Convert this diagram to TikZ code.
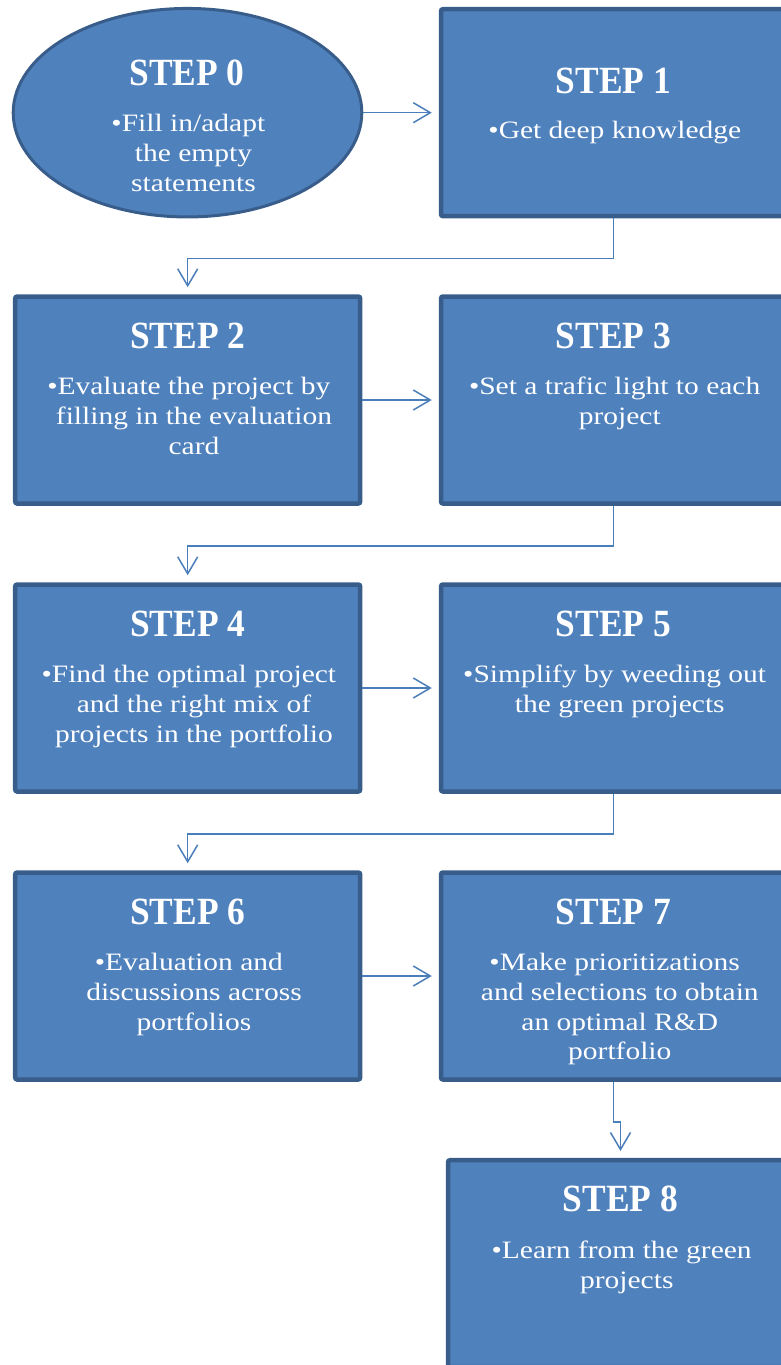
\documentclass[tikz,border=0pt]{standalone}
\usepackage{fontspec}
\setmainfont{Liberation Serif}
\newfontfamily\bodyfont[FakeStretch=1.18]{Liberation Serif}
\newfontfamily\stepfont[FakeStretch=0.92]{Liberation Serif}
\usetikzlibrary{arrows.meta,shapes.geometric,calc}
\definecolor{boxfill}{HTML}{4F81BD}
\definecolor{boxline}{HTML}{385D8A}
\definecolor{conncol}{HTML}{4A7EBB}
\tikzset{
 stepbox/.style={draw=boxline, fill=boxfill, line width=4.5pt, rounded corners=2pt,
   minimum width=345pt, minimum height=207pt, inner sep=0pt},
 stepoval/.style={ellipse, draw=boxline, fill=boxfill, line width=3pt,
   minimum width=348.6pt, minimum height=208.5pt, inner sep=0pt},
 steptitle/.style={anchor=base, text=white, inner sep=0pt,
   font=\stepfont\bfseries\fontsize{38.5}{40}\selectfont},
 stepbody/.style={anchor=base, text=white, inner sep=0pt,
   font=\bodyfont\fontsize{25}{29.8}\selectfont},
 conn/.style={draw=conncol, line width=1.5pt,
   -{Straight Barb[length=17pt,width=20pt]}, shorten >=7pt},
}
\newcommand{\bodylines}[1]{\begin{tabular}[t]{@{}c@{}}#1\end{tabular}}
\begin{document}
\begin{tikzpicture}[x=1pt,y=-1pt]
\useasboundingbox (0,0) rectangle (781,1365);
% shapes
\node[stepoval] (e0) at (187.5,112.7) {};
\node[stepbox] (b1) at (613.5,112.7) {};
\node[stepbox] (b2) at (187.7,400) {};
\node[stepbox] (b3) at (613.5,400) {};
\node[stepbox] (b4) at (187.7,688) {};
\node[stepbox] (b5) at (613.5,688) {};
\node[stepbox] (b6) at (187.7,976) {};
\node[stepbox] (b7) at (613.5,976) {};
\node[stepbox] (b8) at (620.5,1263.7) {};
% texts
\node[steptitle] (t0) at (187,85) {STEP 0};
\node[stepbody] (d0) at (193.5,131.7) {\bodylines{\llap{•}Fill in/adapt\\the empty\\statements}};
\node[steptitle] (t1) at (613.5,93) {STEP 1};
\node[stepbody] (d1) at (620,138) {\bodylines{\llap{•}Get deep knowledge}};
\node[steptitle] (t2) at ($(b2.center)+(0,-52)$) {STEP 2};
\node[stepbody] (d2) at ($(b2.center)+(6.3,-5.5)$) {\bodylines{\llap{•}Evaluate the project by\\filling in the evaluation\\card}};
\node[steptitle] (t3) at ($(b3.center)+(0,-52)$) {STEP 3};
\node[stepbody] (d3) at ($(b3.center)+(6.3,-5.5)$) {\bodylines{\llap{•}Set a trafic light to each\\project}};
\node[steptitle] (t4) at ($(b4.center)+(0,-52)$) {STEP 4};
\node[stepbody] (d4) at ($(b4.center)+(6.3,-5.5)$) {\bodylines{\llap{•}Find the optimal project\\and the right mix of\\projects in the portfolio}};
\node[steptitle] (t5) at ($(b5.center)+(0,-52)$) {STEP 5};
\node[stepbody] (d5) at ($(b5.center)+(6.3,-5.5)$) {\bodylines{\llap{•}Simplify by weeding out\\the green projects}};
\node[steptitle] (t6) at ($(b6.center)+(0,-52)$) {STEP 6};
\node[stepbody] (d6) at ($(b6.center)+(6.3,-5.5)$) {\bodylines{\llap{•}Evaluation and\\discussions across\\portfolios}};
\node[steptitle] (t7) at ($(b7.center)+(0,-52)$) {STEP 7};
\node[stepbody] (d7) at ($(b7.center)+(6.3,-5.5)$) {\bodylines{\llap{•}Make prioritizations\\and selections to obtain\\an optimal R\&D\\portfolio}};
\node[steptitle] (t8) at ($(b8.center)+(0,-52)$) {STEP 8};
\node[stepbody] (d8) at ($(b8.center)+(6.3,-5.5)$) {\bodylines{\llap{•}Learn from the green\\projects}};
% connectors
\draw[conn] (e0.east) -- (b1.west);
\draw[conn] (b1.south) -- ++(0,40) -| (b2.north);
\draw[conn] (b2.east) -- (b3.west);
\draw[conn] (b3.south) -- ++(0,40) -| (b4.north);
\draw[conn] (b4.east) -- (b5.west);
\draw[conn] (b5.south) -- ++(0,40) -| (b6.north);
\draw[conn] (b6.east) -- (b7.west);
\draw[conn] (b7.south) -- ++(0,40) -| (b8.north);
\end{tikzpicture}
\end{document}
